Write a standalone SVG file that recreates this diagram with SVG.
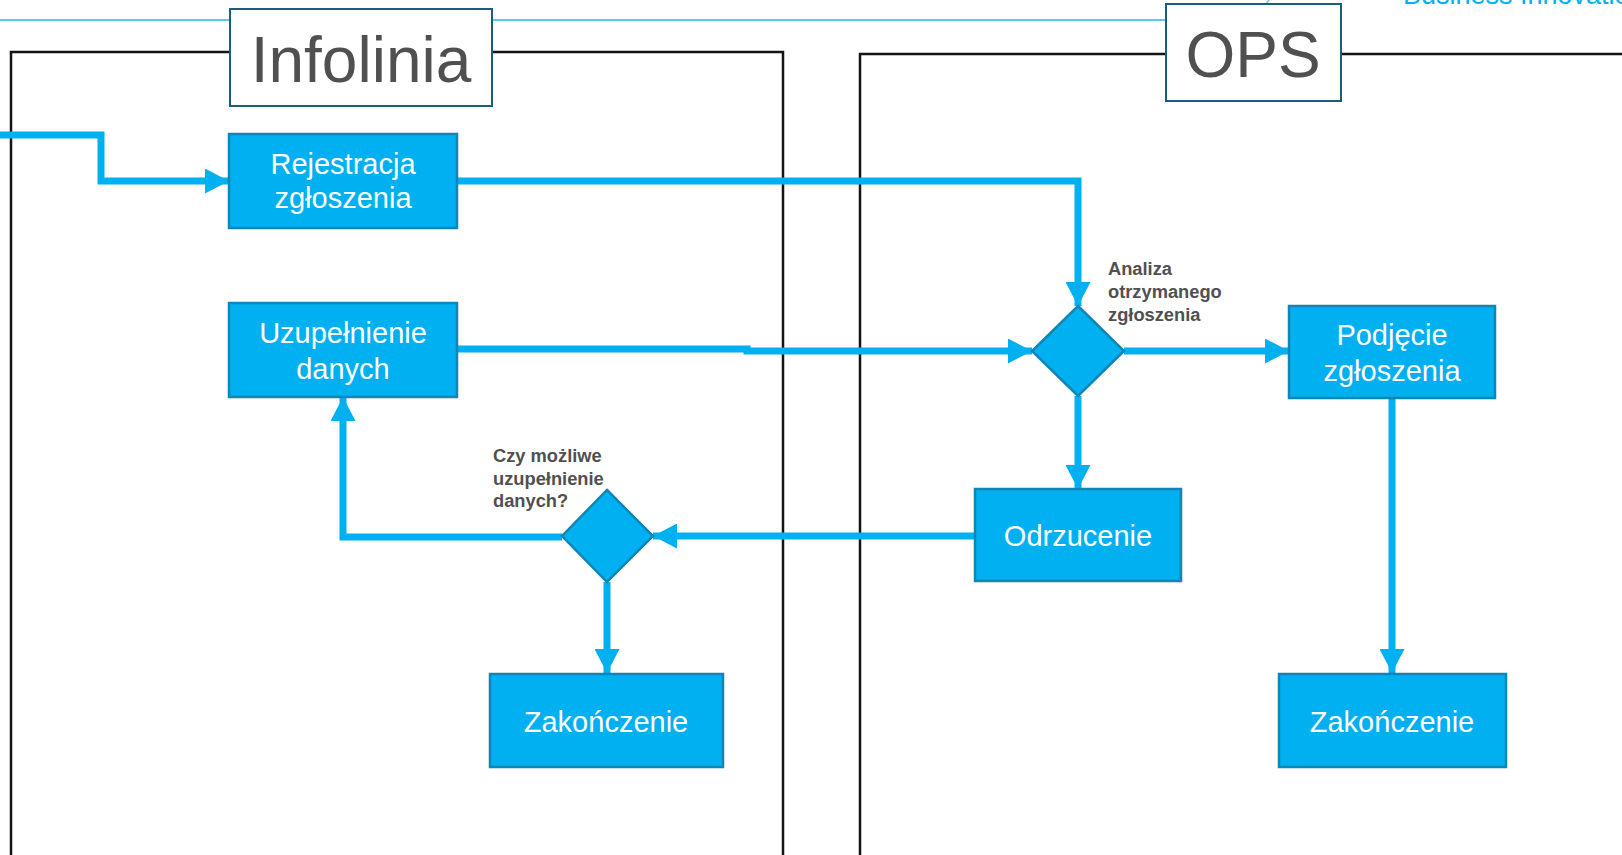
<svg xmlns="http://www.w3.org/2000/svg" width="1622" height="855" viewBox="0 0 1622 855">
<style>
.lane{fill:none;stroke:#141414;stroke-width:2.5}
.title{fill:#fff;stroke:#1b5e7b;stroke-width:2}
.titletxt{font-family:"Liberation Sans",Arial,sans-serif;font-size:64px;fill:#505050;text-anchor:middle}
.box{fill:#00b0f0;stroke:#0f86b8;stroke-width:2.5}
.btxt{font-family:"Liberation Sans",Arial,sans-serif;font-size:29px;fill:#fff;text-anchor:middle}
.lbl{font-family:"Liberation Sans",Arial,sans-serif;font-size:18.3px;font-weight:bold;fill:#505050}
.conn{fill:none;stroke:#00b0f0;stroke-width:7;stroke-linejoin:miter}
</style>
<defs>
<marker id="ah" viewBox="0 0 24 25" refX="24" refY="12.5" markerWidth="24" markerHeight="25" markerUnits="userSpaceOnUse" orient="auto">
<path d="M0,0 L24,12.5 L0,25 Z" fill="#00b0f0"/>
</marker>
</defs>
<rect width="1622" height="855" fill="#fff"/>
<text x="1403" y="4" font-family="Liberation Sans,Arial,sans-serif" font-size="27" fill="#00b0f0">Business Innovation</text>
<line x1="0" y1="20" x2="1166" y2="20" stroke="#5bc8f0" stroke-width="2"/>
<line x1="1269" y1="0" x2="1265" y2="5" stroke="#5bc8f0" stroke-width="1.5"/>
<g id="lane-infolinia">
<path class="lane" d="M11,860 V52 H783 V860"/>
<rect class="title" x="230" y="9" width="262" height="97"/>
<text class="titletxt" x="361" y="82">Infolinia</text>
</g>
<g id="lane-ops">
<path class="lane" d="M860,860 V54 H1630"/>
<rect class="title" x="1166" y="4" width="175" height="97"/>
<text class="titletxt" x="1253" y="77">OPS</text>
</g>
<g id="connectors">
<path class="conn" marker-end="url(#ah)" d="M0,135 H101 V181 H229"/>
<path class="conn" marker-end="url(#ah)" d="M457,181 H1078 V306"/>
<path class="conn" marker-end="url(#ah)" d="M457,349 H747 V351 H1032"/>
<path class="conn" marker-end="url(#ah)" d="M1124,351 H1289"/>
<path class="conn" marker-end="url(#ah)" d="M1078,396 V489"/>
<path class="conn" marker-end="url(#ah)" d="M975,536 H653"/>
<path class="conn" marker-end="url(#ah)" d="M562,537 H343 V397"/>
<path class="conn" marker-end="url(#ah)" d="M607,582 V673"/>
<path class="conn" marker-end="url(#ah)" d="M1392,398 V673"/>
</g>
<g id="rejestracja">
<rect class="box" x="229" y="134" width="228" height="94"/>
<text class="btxt" x="343" y="174">Rejestracja</text>
<text class="btxt" x="343" y="208">zgłoszenia</text>
</g>
<g id="uzupelnienie">
<rect class="box" x="229" y="303" width="228" height="94"/>
<text class="btxt" x="343" y="343">Uzupełnienie</text>
<text class="btxt" x="343" y="379">danych</text>
</g>
<g id="analiza">
<polygon class="box" points="1078,306 1124,351 1078,396 1032,351"/>
<text class="lbl" x="1108" y="275">Analiza</text>
<text class="lbl" x="1108" y="298">otrzymanego</text>
<text class="lbl" x="1108" y="321">zgłoszenia</text>
</g>
<g id="podjecie">
<rect class="box" x="1289" y="306" width="206" height="92"/>
<text class="btxt" x="1392" y="345">Podjęcie</text>
<text class="btxt" x="1392" y="381">zgłoszenia</text>
</g>
<g id="odrzucenie">
<rect class="box" x="975" y="489" width="206" height="92"/>
<text class="btxt" x="1078" y="546">Odrzucenie</text>
</g>
<g id="czy-mozliwe">
<polygon class="box" points="607,490 653,536 607,582 562,536"/>
<text class="lbl" x="493" y="462">Czy możliwe</text>
<text class="lbl" x="493" y="485">uzupełnienie</text>
<text class="lbl" x="493" y="507">danych?</text>
</g>
<g id="zakonczenie-1">
<rect class="box" x="490" y="674" width="233" height="93"/>
<text class="btxt" x="606" y="732">Zakończenie</text>
</g>
<g id="zakonczenie-2">
<rect class="box" x="1279" y="674" width="227" height="93"/>
<text class="btxt" x="1392" y="732">Zakończenie</text>
</g>
</svg>
